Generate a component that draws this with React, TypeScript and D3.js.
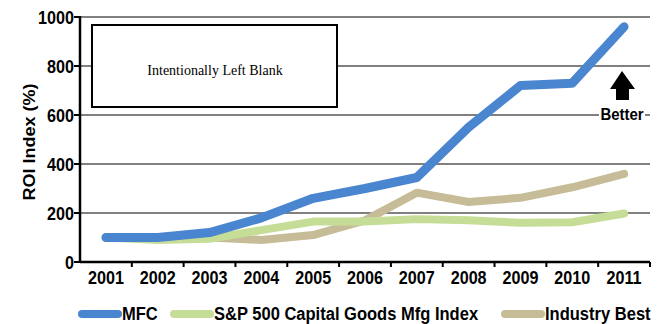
import React from "react";
import * as d3 from "d3";

const years = ["2001","2002","2003","2004","2005","2006","2007","2008","2009","2010","2011"];
const mfc = [100, 100, 120, 180, 260, 300, 345, 550, 720, 730, 960];
const sp500 = [100, 90, 95, 130, 165, 165, 175, 170, 160, 162, 198];
const industry = [100, 95, 100, 90, 110, 170, 283, 245, 262, 305, 360];
const yTicks = [0, 200, 400, 600, 800, 1000];
const seriesNames = ["MFC", "S&P 500 Capital Goods Mfg Index", "Industry Best"];
const seriesColors = ["#4a85d0", "#c6dd97", "#c6bc97"];

const W = 668, H = 324;
const left = 80, right = 650, top = 17, bottom = 262;

function CText({ x, y, anchor = "start", size = 19, sx = 0.85, children }: any) {
  return (
    <text transform={`translate(${x},${y}) scale(${sx},1)`} textAnchor={anchor}
      fontFamily="'Liberation Sans', Arial, sans-serif" fontWeight="bold" fontSize={size}>{children}</text>
  );
}

export default function App() {
  const x = d3.scaleBand<string>().domain(years).range([left, right]);
  const y = d3.scaleLinear().domain([0, 1000]).range([bottom, top]);
  const line = d3.line<number>()
    .x((_, i) => (x(years[i]) as number) + x.bandwidth() / 2)
    .y((d) => y(d))
    .curve(d3.curveLinear);
  const series = [industry, sp500, mfc];
  const seriesColorsDraw = [seriesColors[2], seriesColors[1], seriesColors[0]];
  const widths = [8, 8, 9];
  const legendX = [80, 172, 503];
  return (
    <svg width={W} height={H} style={{ position: "absolute", left: 0, top: 0, background: "#fff" }}>
      {yTicks.filter((t) => t > 0).map((t) => (
        <line key={t} x1={left} x2={right} y1={y(t)} y2={y(t)} stroke="#808080" strokeWidth={2} />
      ))}
      {/* Y axis */}
      <line x1={left} x2={left} y1={top - 1} y2={bottom} stroke="#000" strokeWidth={2.5} />
      {yTicks.map((t) => (
        <g key={t}>
          <line x1={left - 6} x2={left} y1={y(t)} y2={y(t)} stroke="#000" strokeWidth={2} />
          <CText x={left - 6} y={y(t) + 7} anchor="end">{t}</CText>
        </g>
      ))}
      <text transform={`translate(35,142) rotate(-90) scale(1,0.9)`} textAnchor="middle" fontFamily="'Liberation Sans', Arial, sans-serif" fontWeight="bold" fontSize={18}>ROI Index (%)</text>
      {/* X axis */}
      <line x1={left} x2={right} y1={bottom} y2={bottom} stroke="#000" strokeWidth={2.5} />
      {years.map((yr) => (
        <line key={"t" + yr} x1={(x(yr) as number) + x.bandwidth()} x2={(x(yr) as number) + x.bandwidth()} y1={bottom} y2={bottom + 5} stroke="#000" strokeWidth={2} />
      ))}
      {years.map((yr) => (
        <CText key={yr} x={(x(yr) as number) + x.bandwidth() / 2} y={284} anchor="middle">{yr}</CText>
      ))}
      {/* Blank box */}
      <rect x={92} y={25} width={245} height={82} fill="#fff" stroke="#000" strokeWidth={2} />
      <text x={215} y={75} textAnchor="middle" fontFamily="'Liberation Serif', 'Times New Roman', serif" fontSize={14}>Intentionally Left Blank</text>
      {/* Series */}
      {series.map((s, i) => (
        <path key={i} d={line(s) || ""} fill="none" stroke={seriesColorsDraw[i]} strokeWidth={widths[i]} strokeLinecap="round" strokeLinejoin="round" />
      ))}
      {/* Better arrow */}
      <path d="M622,71 L635,89 L629,89 L629,100 L616,100 L616,89 L610,89 Z" fill="#000" />
      <rect x={599} y={105} width={46} height={17} fill="#fff" />
      <CText x={622} y={120} anchor="middle" size={17} sx={0.88}>Better</CText>
      {/* Legend */}
      {seriesNames.map((n, i) => (
        <g key={n}>
          <line x1={legendX[i] + 2} x2={legendX[i] + 38} y1={314} y2={314} stroke={seriesColors[i]} strokeWidth={8} strokeLinecap="round" />
          <CText x={legendX[i] + 42} y={320} sx={0.87}>{n}</CText>
        </g>
      ))}
    </svg>
  );
}
